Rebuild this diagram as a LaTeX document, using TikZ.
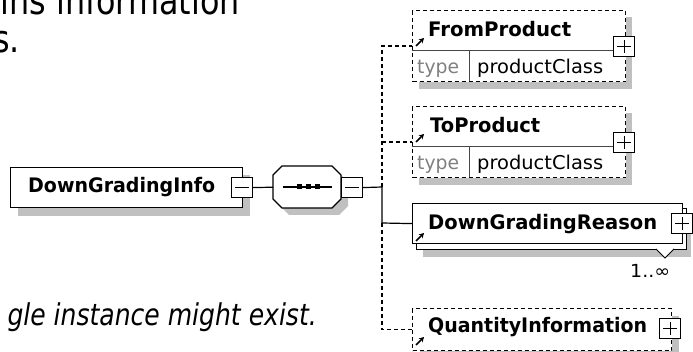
\documentclass[tikz,border=0pt]{standalone}
\usepackage{fontspec}
\setmainfont{DejaVu Sans}
\usepackage{graphicx}
\usetikzlibrary{calc,arrows.meta}
\definecolor{shd}{RGB}{192,192,192}
\definecolor{sepc}{RGB}{70,70,70}
\definecolor{typec}{RGB}{128,128,128}
\tikzset{
  ln/.style={line width=1.2pt, draw=black},
  dln/.style={line width=1.2pt, draw=black, dash pattern=on 4pt off 3pt},
  elbox/.style={rectangle, draw=black, line width=1.2pt, fill=white, inner sep=0pt, anchor=north west},
  delbox/.style={elbox, dash pattern=on 4pt off 3pt},
  sepl/.style={line width=1pt, draw=sepc},
  pmbox/.style={rectangle, draw=black, line width=1.2pt, fill=white, minimum width=21pt, minimum height=20pt, inner sep=0pt, anchor=north west},
  nm/.style={anchor=base west, inner sep=0pt, font=\fontsize{20}{24}\selectfont\bfseries},
  sm/.style={anchor=base west, inner sep=0pt, font=\fontsize{19}{23}\selectfont},
  refarrow/.style={line width=1.6pt, -{Stealth[length=5pt,width=5.5pt]}},
}
\begin{document}
\begin{tikzpicture}[x=1pt,y=-1pt]
\useasboundingbox (0,0) rectangle (693,352);
\clip (0,0) rectangle (693,352);

% surrounding text
\node[anchor=base east, inner sep=0pt, font=\fontsize{38}{46}\selectfont] (t1) at (240,15) {\scalebox{0.837}[1]{ins information}};
\node[anchor=base east, inner sep=0pt, font=\fontsize{38}{46}\selectfont] (t2) at (20,53) {\scalebox{0.837}[1]{s.}};
\node[anchor=base east, inner sep=0pt, font=\fontsize{30}{36}\selectfont\itshape] (t3) at (317,326) {\scalebox{0.835}[1]{gle instance might exist.}};

% DownGradingInfo
\fill[shd] (18,175) rectangle (250,216);
\node[elbox, minimum width=232pt, minimum height=40pt] (dgi) at (10,167) {};
\node[nm] (dgit) at (28,193) {\resizebox{187pt}{\height}{DownGradingInfo}};
\node[pmbox] (dgim) at (231,177) {};
\draw[ln] ($(dgim.west)+(4,0)$) -- ($(dgim.east)+(-4,0)$);

% sequence compositor
\fill[shd, shift={(7,7)}] (282,166) -- (332,166) -- (341,175) -- (341,199) -- (332,208) -- (282,208) -- (273,199) -- (273,175) -- cycle;
\node[rectangle, minimum width=68pt, minimum height=42pt, inner sep=0pt, anchor=north west] (oct) at (273,166) {};
\draw[ln, fill=white] (282,166) -- (332,166) -- (341,175) -- (341,199) -- (332,208) -- (282,208) -- (273,199) -- (273,175) -- cycle;
\draw[ln] (283,187) -- (332,187);
\fill (296.5,184.5) rectangle (301.5,189.5);
\fill (305.5,184.5) rectangle (310.5,189.5);
\fill (314.5,184.5) rectangle (319.5,189.5);
\node[pmbox] (octm) at (341,177) {};
\draw[ln] ($(octm.west)+(4,0)$) -- ($(octm.east)+(-4,0)$);

% FromProduct
\fill[shd] (419,17) rectangle (632,89);
\node[delbox, minimum width=213pt, minimum height=71pt] (fp) at (412,10) {};
\draw[sepl] (412,51) -- (625,51);
\draw[sepl] (469,51) -- (469,81);
\node[nm] (fpt) at (428,37) {\resizebox{143pt}{\height}{FromProduct}};
\node[sm, text=typec] (fpty) at (417,74) {\resizebox{42pt}{\height}{type}};
\node[sm] (fpcl) at (477,74) {\resizebox{126pt}{\height}{productClass}};
\node[pmbox] (fpp) at (613,36) {};
\draw[ln] ($(fpp.west)+(4,0)$) -- ($(fpp.east)+(-4,0)$);
\draw[ln] ($(fpp.north)+(0,4)$) -- ($(fpp.south)+(0,-4)$);
\coordinate (fpin) at (412,46);
\draw[refarrow] (416,46) -- (424,38);

% ToProduct
\fill[shd] (419,113) rectangle (632,185);
\node[delbox, minimum width=213pt, minimum height=71pt] (tp) at (412,106) {};
\draw[sepl] (412,147) -- (625,147);
\draw[sepl] (469,147) -- (469,177);
\node[nm] (tpt) at (430,133) {\resizebox{110pt}{\height}{ToProduct}};
\node[sm, text=typec] (tpty) at (417,170) {\resizebox{42pt}{\height}{type}};
\node[sm] (tpcl) at (477,170) {\resizebox{126pt}{\height}{productClass}};
\node[pmbox] (tpp) at (613,132) {};
\draw[ln] ($(tpp.west)+(4,0)$) -- ($(tpp.east)+(-4,0)$);
\draw[ln] ($(tpp.north)+(0,4)$) -- ($(tpp.south)+(0,-4)$);
\coordinate (tpin) at (412,142);
\draw[refarrow] (416,142) -- (424,134);

% DownGradingReason
\fill[shd] (423,215) rectangle (691,257);
\node[elbox, minimum width=270pt, minimum height=41pt] (dgrb) at (416,208) {};
\fill[white] (656,249) -- (665,258) -- (674,249) -- cycle;
\draw[line width=1pt] (656,249) -- (665,258) -- (674,249);
\node[elbox, minimum width=270pt, minimum height=40pt] (dgr) at (412,203) {};
\node[nm] (dgrt) at (428,230) {\resizebox{229pt}{\height}{DownGradingReason}};
\node[pmbox] (dgrp) at (671,213) {};
\draw[ln] ($(dgrp.west)+(4,0)$) -- ($(dgrp.east)+(-4,0)$);
\draw[ln] ($(dgrp.north)+(0,4)$) -- ($(dgrp.south)+(0,-4)$);
\draw[refarrow] (416,241) -- (424,233);
\node[anchor=base west, inner sep=0pt, font=\fontsize{18}{22}\selectfont] (occ) at (630,278) {\resizebox{40pt}{\height}{1..∞}};

% QuantityInformation
\fill[shd] (420,316) rectangle (679,358);
\node[delbox, minimum width=259pt, minimum height=42pt] (qi) at (412,308) {};
\node[nm] (qit) at (428,333) {\resizebox{219pt}{\height}{QuantityInformation}};
\node[pmbox] (qip) at (659,318) {};
\draw[ln] ($(qip.west)+(4,0)$) -- ($(qip.east)+(-4,0)$);
\draw[ln] ($(qip.north)+(0,4)$) -- ($(qip.south)+(0,-4)$);
\draw[refarrow] (416,345) -- (424,337);

% connectors
\coordinate (j1) at (382,187);
\coordinate (j2) at (382,223);
\coordinate (j0) at (382,142);
\draw[ln] (dgim.east) -- (oct.west);
\draw[ln] (octm.east) -- (j1) -- (j2) -- (dgr.west);
\draw[dln] (j1) |- (fpin);
\draw[dln] (j0) -- (tpin);
\draw[dln] (j2) |- (qi.west);
\end{tikzpicture}
\end{document}
